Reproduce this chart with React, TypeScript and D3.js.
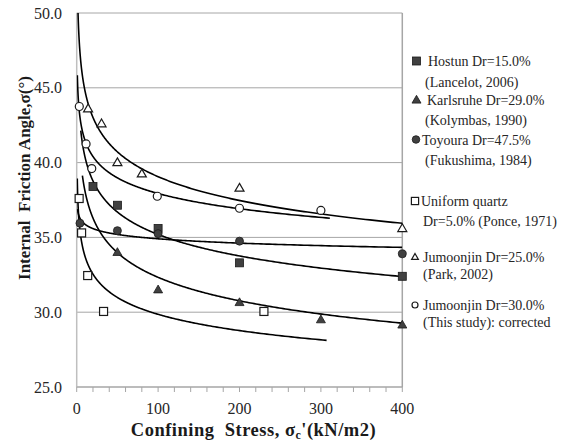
import React from "react";
import * as d3 from "d3";

const seriesNames = [
  ["Hostun Dr=15.0%", "(Lancelot, 2006)"],
  ["Karlsruhe Dr=29.0%", "(Kolymbas, 1990)"],
  ["Toyoura Dr=47.5%", "(Fukushima, 1984)"],
  ["Uniform quartz", "Dr=5.0% (Ponce, 1971)"],
  ["Jumoonjin Dr=25.0%", "(Park, 2002)"],
  ["Jumoonjin Dr=30.0%", "(This study): corrected"],
];
const markerTypes = ["squareFilled", "triangleFilled", "circleFilled", "squareOpen", "triangleOpen", "circleOpen"];

const hostunX = [20, 50, 100, 200, 400];
const hostunY = [38.4, 37.15, 35.6, 33.3, 32.4];
const karlsruheX = [50, 100, 200, 300, 400];
const karlsruheY = [34.0, 31.5, 30.65, 29.5, 29.15];
const toyouraX = [4, 50, 100, 200, 400];
const toyouraY = [35.95, 35.45, 35.25, 34.75, 33.9];
const quartzX = [3, 6, 13.5, 33, 230];
const quartzY = [37.6, 35.3, 32.45, 30.05, 30.05];
const jum25X = [14, 30.5, 50, 80, 200, 400];
const jum25Y = [43.6, 42.6, 40.0, 39.25, 38.3, 35.6];
const jum30X = [3.2, 11.5, 18.5, 99, 200, 300];
const jum30Y = [43.75, 41.25, 39.6, 37.75, 36.95, 36.8];

// power trendlines y = a * x^b
const fitA = [46.42, 45.0, 36.89, 38.2, 51.49, 45.44];
const fitB = [-0.0601, -0.0718, -0.012, -0.0535, -0.06, -0.0392];
const fitStart = [5, 7, 1, 0.7, 1, 0.8];
const fitEnd = [400, 400, 400, 307, 400, 311];

const xTicks = [0, 100, 200, 300, 400];
const xMinorTicks = d3.range(0, 401, 20);
const yTicks = [25, 30, 35, 40, 45, 50];

const W = 573;
const H = 443;
const L = 76.7, R = 402.3, T = 13, B = 387;
const FONT = "'Liberation Serif', 'Times New Roman', serif";
const FILL = "#404040";
const STROKE = "#1a1a1a";

function Marker({ type, cx, cy, size = 1 }: { type: string; cx: number; cy: number; size?: number }) {
  const filled = type.endsWith("Filled");
  const fill = filled ? FILL : "#fff";
  const sw = filled ? 0.8 : 1.2;
  if (type.startsWith("square")) {
    const s = 8 * size;
    return <rect x={cx - s / 2} y={cy - s / 2} width={s} height={s} fill={fill} stroke={STROKE} strokeWidth={sw} />;
  }
  if (type.startsWith("triangle")) {
    const s = 9 * size;
    const h = s * 0.866;
    const p = `${cx},${cy - h * 0.6} ${cx + s / 2},${cy + h * 0.4} ${cx - s / 2},${cy + h * 0.4}`;
    return <polygon points={p} fill={fill} stroke={STROKE} strokeWidth={sw} strokeLinejoin="miter" />;
  }
  return <circle cx={cx} cy={cy} r={4 * size} fill={fill} stroke={STROKE} strokeWidth={sw} />;
}

export default function App() {
  const x = d3.scaleLinear().domain([0, 400]).range([L, R]);
  const y = d3.scaleLinear().domain([25, 50]).range([B, T]);
  const seriesX = [hostunX, karlsruheX, toyouraX, quartzX, jum25X, jum30X];
  const seriesY = [hostunY, karlsruheY, toyouraY, quartzY, jum25Y, jum30Y];

  const line = d3
    .line<[number, number]>()
    .x((d) => x(d[0]))
    .y((d) => y(d[1]));

  const curves = fitA.map((a, i) => {
    const b = fitB[i];
    const s = fitStart[i];
    const e = fitEnd[i];
    const pts: [number, number][] = [];
    const n = 400;
    for (let k = 0; k <= n; k++) {
      const t = k / n;
      const xv = Math.exp(Math.log(s) + (Math.log(e) - Math.log(s)) * t);
      pts.push([xv, a * Math.pow(xv, b)]);
    }
    return line(pts) as string;
  });

  const legendRows = [61, 100, 139.5, 201, 257, 305];
  const legendLine2 = [20.5, 20, 20.5, 20, 16.5, 16.5];
  const legendMarkerX = [416.5, 416.5, 416, 415, 415, 415];
  const legendMarkerSize = [1, 1, 0.95, 0.9, 0.75, 0.75];
  const legendText1X = [428, 427, 422, 421, 423, 423];
  const legendText2X = [425, 425, 425, 423, 423, 423];
  const tf = { fontFamily: FONT } as React.CSSProperties;

  return (
    <svg width={W} height={H} style={{ position: "absolute", left: 0, top: 0, background: "#fff" }}>
      <defs>
        <clipPath id="plot">
          <rect x={L} y={T} width={R - L} height={B - T} />
        </clipPath>
      </defs>
      <rect x={0} y={0} width={W} height={H} fill="#fff" />
      {yTicks.map((t) => (
        <line key={t} x1={L} x2={R} y1={y(t)} y2={y(t)} stroke="#a6a6a6" strokeWidth={1} />
      ))}
      <line x1={R} x2={R} y1={T} y2={B} stroke="#a6a6a6" strokeWidth={1.5} />
      <line x1={L} x2={L} y1={T} y2={B} stroke="#bfbfbf" strokeWidth={1.5} />
      <line x1={L} x2={R} y1={B} y2={B} stroke="#a6a6a6" strokeWidth={1.2} />
      {xMinorTicks.map((t) => (
        <line key={t} x1={x(t)} x2={x(t)} y1={B} y2={B + 5} stroke="#a6a6a6" strokeWidth={1} />
      ))}
      {yTicks.map((t) => (
        <text key={t} x={62} y={y(t) + 5.5} textAnchor="end" fontSize={16} fill="#262626" style={tf}>
          {t.toFixed(1)}
        </text>
      ))}
      {xTicks.map((t) => (
        <text key={t} x={x(t)} y={414} textAnchor="middle" fontSize={16} fill="#262626" style={tf}>
          {t}
        </text>
      ))}
      <g clipPath="url(#plot)">
        {curves.map((d, i) => (
          <path key={i} d={d} fill="none" stroke="#000" strokeWidth={1.6} />
        ))}
      </g>
      {seriesX.map((xs, i) =>
        xs.map((xv, j) => <Marker key={`${i}-${j}`} type={markerTypes[i]} cx={x(xv)} cy={y(seriesY[i][j])} />)
      )}
      <text
        transform={`translate(30, 178) rotate(-90)`}
        textAnchor="middle"
        fontSize={17}
        fontWeight="bold"
        fill="#1a1a1a"
        xmlSpace="preserve"
        style={tf}
      >
        {"Internal  Friction Angle,σ(°)"}
      </text>
      <text
        x={253.5}
        y={435.5}
        textAnchor="middle"
        fontSize={18.5}
        fontWeight="bold"
        fill="#1a1a1a"
        xmlSpace="preserve"
        style={{ fontFamily: FONT, letterSpacing: "0.5px" }}
      >
        {"Confining  Stress, σ"}
        <tspan fontSize={12} dy={3}>c</tspan>
        <tspan dy={-3}>{"'(kN/m2)"}</tspan>
      </text>
      {seriesNames.map((nm, i) => (
        <g key={i}>
          <Marker type={markerTypes[i]} cx={legendMarkerX[i]} cy={legendRows[i]} size={legendMarkerSize[i]} />
          <text x={legendText1X[i]} y={legendRows[i] + 5} fontSize={14} fill="#262626" style={tf}>
            {nm[0]}
          </text>
          <text x={legendText2X[i]} y={legendRows[i] + 5 + legendLine2[i]} fontSize={14} fill="#262626" style={tf}>
            {nm[1]}
          </text>
        </g>
      ))}
    </svg>
  );
}
